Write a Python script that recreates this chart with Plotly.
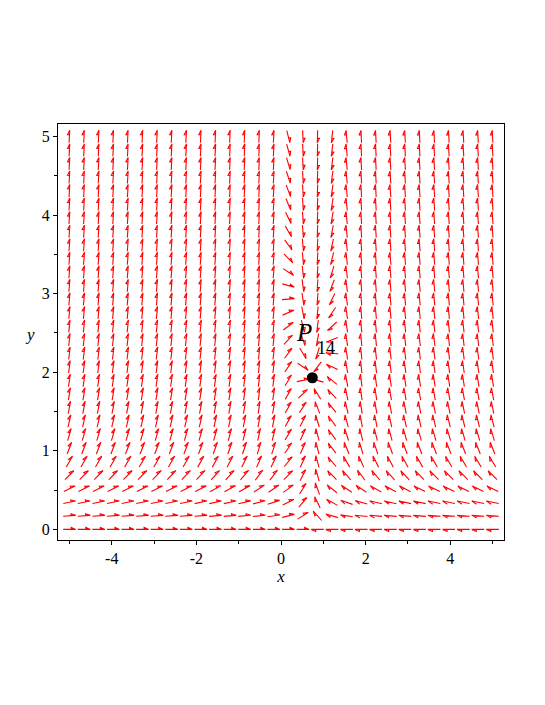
import numpy as np
import plotly.graph_objects as go

# 方向場の格子 (30 x 30 本の矢印)
x_grid = np.linspace(-5, 5, 30)
y_grid = np.linspace(0, 5, 30)

# 平衡点 P14
p14_x = 0.74
p14_y = 1.93

x_range = [-5.27, 5.27]
y_range = [-0.135, 5.16]
x_ticks = [-4, -2, 0, 2, 4]
x_tick_labels = ["-4", "-2", "0", "2", "4"]
x_minor_ticks = [-5, -3, -1, 1, 3, 5]
y_ticks = [0, 1, 2, 3, 4, 5]
y_tick_labels = ["0", "1", "2", "3", "4", "5"]
y_minor_ticks = [0.5, 1.5, 2.5, 3.5, 4.5]


def field(x, y):
    # 方向場のベクトル (dx/dt, dy/dt)
    d = x - p14_x
    dx = -np.tanh(d / 1.2)
    g = 0.22 + 1.8 * y**3 / (y**3 + 0.7)
    e = np.exp(-np.abs(d / 0.876) ** 5)
    h = 0.5 * np.tanh((y - p14_y) / 2.0)
    dy = y * ((1 - e) * g - e * h)
    return dx, dy


W, H = 545, 705
# ページ本体の 8px の余白を考慮
margin = dict(l=50, r=49, t=116, b=173)
sx = (W - margin["l"] - margin["r"]) / (x_range[1] - x_range[0])
sy = (H - margin["t"] - margin["b"]) / (y_range[1] - y_range[0])

arrow_len = 12.5  # px
head_len = 4.5
head_w = 2.0

xs, ys = [], []
for x in x_grid:
    for y in y_grid:
        u, v = field(x, y)
        px, py = u * sx, v * sy
        n = np.hypot(px, py)
        if n == 0:
            continue
        ux, uy = px / n, py / n
        tail = (x - ux * arrow_len / 2 / sx, y - uy * arrow_len / 2 / sy)
        tip = (x + ux * arrow_len / 2 / sx, y + uy * arrow_len / 2 / sy)
        base = (tip[0] - ux * head_len / sx, tip[1] - uy * head_len / sy)
        barb = (base[0] - uy * head_w / sx, base[1] + ux * head_w / sy)
        for p in (tail, tip, barb, base):
            xs.append(p[0])
            ys.append(p[1])
        xs.append(None)
        ys.append(None)

fig = go.Figure()
fig.add_trace(
    go.Scatter(
        x=xs,
        y=ys,
        mode="lines",
        line=dict(color="#ff0000", width=1.1),
        hoverinfo="skip",
        showlegend=False,
    )
)
fig.add_trace(
    go.Scatter(
        x=[p14_x],
        y=[p14_y],
        mode="markers",
        marker=dict(color="black", size=11),
        showlegend=False,
    )
)

serif = '"Liberation Serif", "Times New Roman", serif'
fig.add_annotation(
    x=0.55, y=2.51, text="<i>P</i>", showarrow=False,
    font=dict(family=serif, size=25, color="black"),
)
fig.add_annotation(
    x=0.80, y=2.31, text="14", showarrow=False, xanchor="left",
    font=dict(family=serif, size=18, color="black"),
)

axis_common = dict(
    showgrid=False,
    zeroline=False,
    showline=True,
    mirror=True,
    linecolor="black",
    linewidth=1,
    ticks="outside",
    ticklen=4,
    tickcolor="black",
    tickfont=dict(family=serif, size=16, color="black"),
)

fig.update_layout(
    width=W,
    height=H,
    autosize=False,
    margin=margin,
    plot_bgcolor="white",
    paper_bgcolor="white",
    font=dict(family=serif),
    xaxis=dict(
        range=x_range,
        tickvals=x_ticks,
        ticktext=x_tick_labels,
        minor=dict(tickvals=x_minor_ticks, ticks="outside", ticklen=3, tickcolor="black"),
        title=dict(text="<i>x</i>", font=dict(family=serif, size=17, color="black"), standoff=1),
        **axis_common,
    ),
    yaxis=dict(
        range=y_range,
        tickvals=y_ticks,
        ticktext=y_tick_labels,
        minor=dict(tickvals=y_minor_ticks, ticks="outside", ticklen=3, tickcolor="black"),
        **axis_common,
    ),
)
fig.add_annotation(
    x=-0.047, y=0.495, xref="paper", yref="paper", text="<i>y</i>", showarrow=False,
    xanchor="right", font=dict(family=serif, size=17, color="black"),
)

fig.write_html("out.html")
